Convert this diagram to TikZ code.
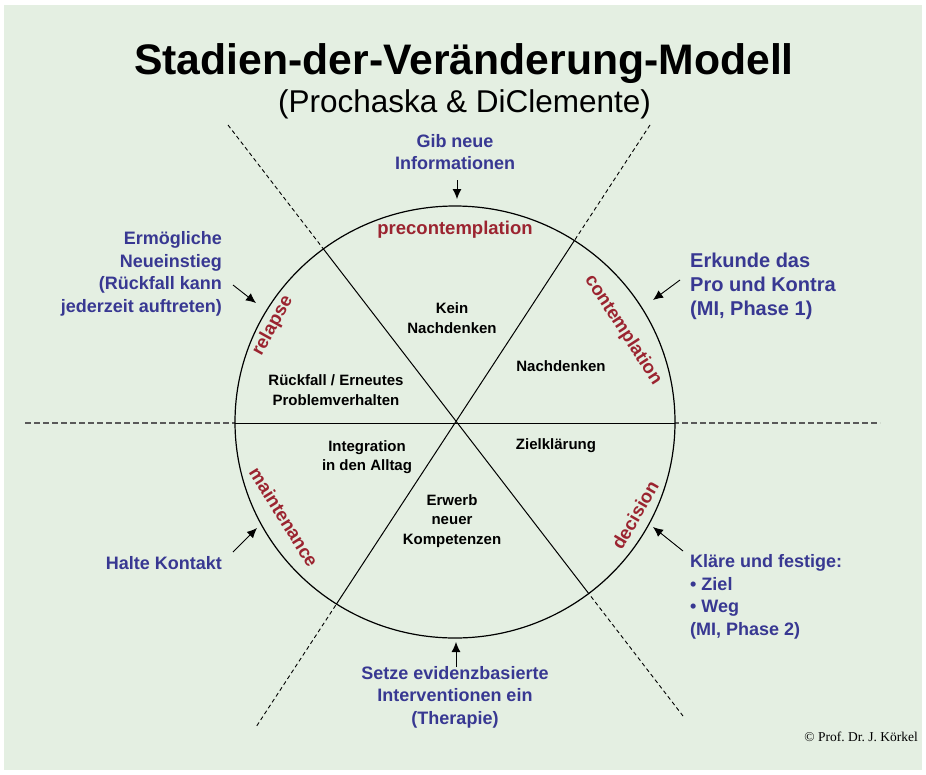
\documentclass[tikz,border=0pt]{standalone}
\usepackage{fontspec}
\setmainfont{Liberation Sans}
\newfontfamily\serifnote{Liberation Serif}
\usetikzlibrary{arrows.meta}
\frenchspacing

\definecolor{paper}{RGB}{228,239,226}
\definecolor{stagered}{RGB}{155,36,48}
\definecolor{hintblue}{RGB}{56,56,146}

\tikzstyle{stage} = [text = stagered, font = \fontsize{18.5}{20}\selectfont\bfseries, inner sep = 0pt]
\tikzstyle{hint} = [text = hintblue, font = \fontsize{18}{22.5}\selectfont\bfseries, inner sep = 0pt]
\tikzstyle{inner} = [align = center, font = \fontsize{15}{19.5}\selectfont\bfseries, inner sep = 0pt]
\tikzstyle{pointer} = [-{Latex[length=10pt, width=9pt]}, line width = 0.9pt]

\begin{document}
\begin{tikzpicture}[x = 1pt, y = -1pt]
		\useasboundingbox (0, 0) rectangle (926, 774);
		\fill [white] (0, 0) rectangle (926, 774);
		\fill [paper] (4, 5) rectangle (922, 770);

		% title
		\node [anchor = base, inner sep = 0pt, font = \fontsize{42.7}{44}\selectfont\bfseries] at (464, 74) (title) {Stadien-der-Ver\"anderung-Modell};
		\node [anchor = base, inner sep = 0pt, font = \fontsize{31.5}{33}\selectfont] at (464.5, 112) (sub) {(Prochaska \& DiClemente)};

		% wheel
		\coordinate (c) at (455, 422);
		\coordinate (ul) at (228, 125);
		\coordinate (lr) at (683, 716);
		\coordinate (ur) at (650, 125);
		\coordinate (ll) at (256, 727);
		\coordinate (w) at (25, 423);
		\coordinate (e) at (880, 423);

		\draw [dashed, dash pattern = on 4pt off 3pt, line width = 0.9pt] (ul) -- (lr);
		\draw [dashed, dash pattern = on 4pt off 3pt, line width = 0.9pt] (ur) -- (ll);
		\draw [dashed, dash pattern = on 6pt off 3pt, line width = 1.4pt, black!65] (w) -- (e);
		\begin{scope}
			\fill [paper] (c) ellipse [x radius = 220, y radius = 216];
			\clip (c) ellipse [x radius = 220, y radius = 216];
			\draw [line width = 1pt] (ul) -- (lr);
			\draw [line width = 1pt] (ur) -- (ll);
			\draw [line width = 1pt] (w) -- (e);
		\end{scope}
		\draw [line width = 1.2pt] (c) ellipse [x radius = 220, y radius = 216];

		% stages on the rim
		\node [stage] at (455, 230) (pre) {precontemplation};
		\node [stage, rotate = -57] at (623, 330) (contemp) {contemplation};
		\node [stage, rotate = 60] at (635, 515) (decision) {decision};
		\node [stage, rotate = 61] at (273, 326) (relapse) {relapse};
		\node [stage, rotate = -58] at (284, 517) (maint) {maintenance};

		% inside the wheel
		\node [inner] at (452, 318) (kein) {Kein\\Nachdenken};
		\node [inner] at (561, 366) (nach) {Nachdenken};
		\node [inner] at (336, 390) (rueck) {R\"uckfall / Erneutes\\Problemverhalten};
		\node [inner] at (367, 457) (integ) {Integration\\in den Alltag};
		\node [inner] at (556, 446) (ziel) {Zielkl\"arung};
		\node [inner] at (452, 521) (erwerb) {Erwerb\\neuer\\Kompetenzen};

		% what to do in each stage
		\node [hint, align = center] at (455, 152) (gib) {Gib neue\\Informationen};
		\node [hint, align = right, anchor = east] at (222, 274) (ermoeg) {Erm\"ogliche\\Neueinstieg\\(R\"uckfall kann\\jederzeit auftreten)};
		\node [hint, align = left, anchor = west, font = \fontsize{20}{24}\selectfont\bfseries] at (690, 286) (erkunde) {Erkunde das\\Pro und Kontra\\(MI, Phase 1)};
		\node [hint, anchor = east] at (222, 563) (halte) {Halte Kontakt};
		\node [hint, align = left, anchor = west] at (690, 597) (klaere) {Kl\"are und festige:\\\textbullet{} Ziel\\\textbullet{} Weg\\(MI, Phase 2)};
		\node [hint, align = center] at (455, 697) (setze) {Setze evidenzbasierte\\Interventionen ein\\(Therapie)};

		\node [anchor = east, inner sep = 0pt, font = \serifnote\fontsize{13.5}{15}\selectfont] at (918, 737) (copy) {\textcopyright{} Prof. Dr. J. K\"orkel};

		% pointers to the rim
		\coordinate (gib-from) at (457, 180);
		\coordinate (gib-to) at (457, 199);
		\coordinate (erk-from) at (680, 280);
		\coordinate (erk-to) at (653, 300);
		\coordinate (kla-from) at (683, 551);
		\coordinate (kla-to) at (653, 527);
		\coordinate (erm-from) at (233, 285);
		\coordinate (erm-to) at (256, 303);
		\coordinate (hal-from) at (233, 552);
		\coordinate (hal-to) at (257, 528);
		\coordinate (set-from) at (456, 667);
		\coordinate (set-to) at (456, 642);

		\draw [pointer] (gib-from) -- (gib-to);
		\draw [pointer] (erk-from) -- (erk-to);
		\draw [pointer] (kla-from) -- (kla-to);
		\draw [pointer] (erm-from) -- (erm-to);
		\draw [pointer] (hal-from) -- (hal-to);
		\draw [pointer] (set-from) -- (set-to);
\end{tikzpicture}
\end{document}
